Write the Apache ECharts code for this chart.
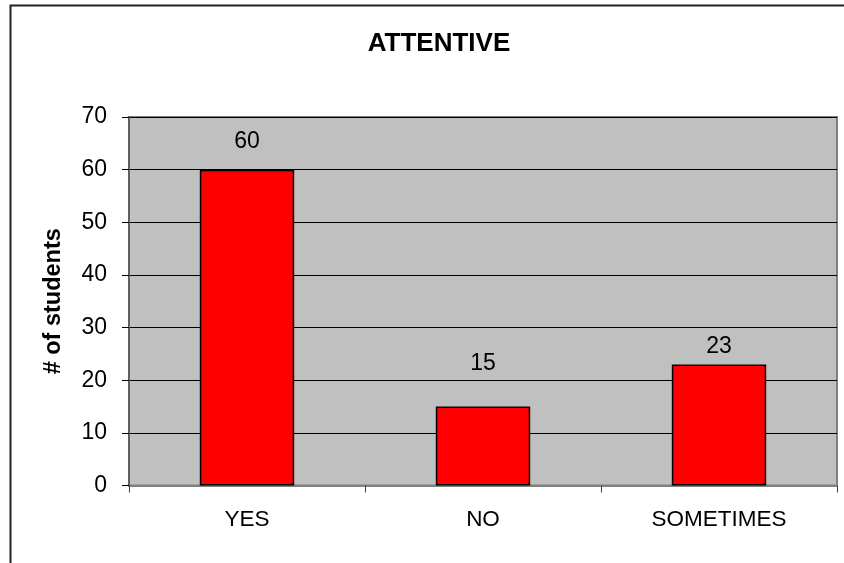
<!DOCTYPE html>
<html>
<head>
<meta charset="utf-8">
<script src="https://cdn.jsdelivr.net/npm/echarts@6/dist/echarts.min.js"></script>
<style>
html,body{margin:0;padding:0;background:#fff;}
#chart{width:844px;height:563px;}
</style>
</head>
<body>
<div id="chart"></div>
<script>
const titleText = "ATTENTIVE";
const yAxisName = "# of students";
const categories = ["YES", "NO", "SOMETIMES"];
const values = [60, 15, 23];
const labelGaps = [16, 31, 6];

const FONT = "'Liberation Sans', Arial, sans-serif";
const chart = echarts.init(document.getElementById('chart'), null, {renderer: 'canvas'});

const barData = values.map((v, i) => ({
  value: v,
  label: {distance: labelGaps[i]}
}));

chart.setOption({
  animation: false,
  backgroundColor: '#ffffff',
  textStyle: {fontFamily: FONT},
  title: {
    text: titleText,
    left: 434,
    top: 26,
    textAlign: 'center',
    textStyle: {fontFamily: FONT, fontWeight: 'bold', fontSize: 26, color: '#000'}
  },
  graphic: [{
    type: 'rect',
    shape: {x: 10.5, y: 5.5, width: 1000, height: 800},
    style: {fill: 'none', stroke: '#222', lineWidth: 2},
    silent: true,
    z: 100
  }],
  grid: {
    left: 129,
    top: 117,
    right: 7,
    bottom: 77.5,
    show: true,
    backgroundColor: '#C0C0C0',
    borderColor: '#808080',
    borderWidth: 2,
    containLabel: false
  },
  xAxis: {
    type: 'category',
    data: categories,
    axisLine: {show: true, lineStyle: {color: '#808080', width: 2}},
    axisTick: {show: true, alignWithLabel: false, length: 7, lineStyle: {color: '#404040', width: 1}},
    axisLabel: {fontFamily: FONT, fontSize: 22.5, color: '#000', margin: 23},
    splitLine: {show: false}
  },
  yAxis: {
    type: 'value',
    min: 0,
    max: 70,
    interval: 10,
    name: yAxisName,
    nameLocation: 'middle',
    nameRotate: 90,
    nameGap: 63,
    nameTextStyle: {fontFamily: FONT, fontWeight: 'bold', fontSize: 23.5, color: '#000'},
    axisLine: {show: true, lineStyle: {color: '#606060', width: 2}},
    axisTick: {show: true, length: 7, lineStyle: {color: '#000', width: 1}},
    axisLabel: {fontFamily: FONT, fontSize: 23, color: '#000', margin: 22},
    splitLine: {show: true, lineStyle: {color: '#000', width: 1}}
  },
  series: [{
    type: 'bar',
    data: barData,
    barWidth: '40%',
    itemStyle: {color: '#FF0000', borderColor: '#000', borderWidth: 1.5},
    label: {
      show: true,
      position: 'top',
      fontFamily: FONT,
      fontSize: 23,
      color: '#000'
    }
  }]
});
</script>
</body>
</html>
